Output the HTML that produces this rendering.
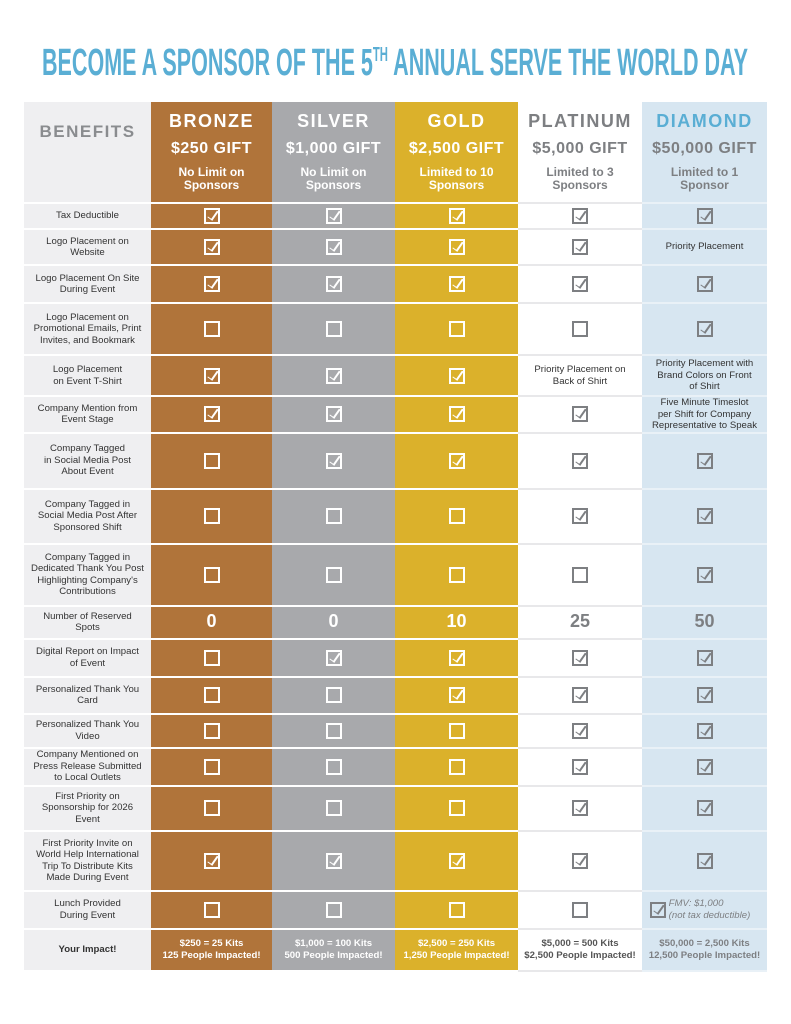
<!DOCTYPE html>
<html><head><meta charset="utf-8"><style>
*{margin:0;padding:0;box-sizing:border-box}
body{width:791px;height:1024px;background:#fff;font-family:"Liberation Sans",sans-serif;position:relative;overflow:hidden}
#title{position:absolute;left:0;top:40px}
table{position:absolute;left:24px;top:102px;border-collapse:collapse;table-layout:fixed}
td{text-align:center;vertical-align:middle;padding:0 2px;border-bottom:2px solid rgba(255,255,255,.35);line-height:1.2;font-size:9.6px;overflow:hidden}
td.b{background:#efeff1;color:#333;font-size:9.6px;border-bottom:2px solid #fff}
td.c1{background:#b0743a;color:#fff}
td.c2{background:#a8a9ac;color:#fff}
td.c3{background:#dbb12b;color:#fff}
td.c4{background:#fff;color:#7d7f82;border-bottom:2px solid #e8e8ea}
td.c5{background:#d7e6f1;color:#7d7f82;border-bottom:2px solid #e9f1f7}
.bx{display:inline-block;width:16px;height:16px;border:2px solid currentColor;position:relative;vertical-align:middle}
.ck::after{content:"";position:absolute;left:4px;top:-1px;width:4px;height:10px;border-right:2px solid currentColor;border-bottom:1.5px solid currentColor;transform:rotate(35deg)}
.t{font-size:9.6px;color:#333;line-height:1.2}
.h1{font-size:18px;font-weight:bold;letter-spacing:1.5px;line-height:1.2}
.h2{font-size:16px;font-weight:bold;letter-spacing:.5px;margin-top:6px;line-height:1.2}
.h3{font-size:12px;font-weight:bold;margin-top:8px;line-height:1.1}
.n{font-size:18px;font-weight:bold}
.imp{font-size:9.6px;font-weight:bold}
</style></head><body>
<svg id="title" width="791" height="45"><text x="42" y="35" textLength="706" lengthAdjust="spacingAndGlyphs" font-family="Liberation Sans Narrow, Liberation Sans, sans-serif" font-weight="bold" font-size="38" fill="#5aaed4">BECOME A SPONSOR OF THE 5<tspan font-size="20" dy="-14">TH</tspan><tspan dy="14"> ANNUAL SERVE THE WORLD DAY</tspan></text></svg>
<table>
<colgroup><col style="width:127px"><col style="width:121px"><col style="width:123px"><col style="width:123px"><col style="width:124px"><col style="width:125px"></colgroup>
<tr style="height:101px"><td class="b" style="vertical-align:top;padding-top:20px"><div style="font-size:17px;font-weight:bold;color:#8a8c8f;letter-spacing:1.5px">BENEFITS</div></td>
<td class="c1"><div class="h1">BRONZE</div><div class="h2">$250 GIFT</div><div class="h3">No Limit on<br>Sponsors</div></td>
<td class="c2"><div class="h1">SILVER</div><div class="h2">$1,000 GIFT</div><div class="h3">No Limit on<br>Sponsors</div></td>
<td class="c3"><div class="h1">GOLD</div><div class="h2">$2,500 GIFT</div><div class="h3">Limited to 10<br>Sponsors</div></td>
<td class="c4"><div class="h1">PLATINUM</div><div class="h2">$5,000 GIFT</div><div class="h3">Limited to 3<br>Sponsors</div></td>
<td class="c5"><div class="h1" style="color:#5aaed4">DIAMOND</div><div class="h2">$50,000 GIFT</div><div class="h3">Limited to 1<br>Sponsor</div></td></tr>

<tr style="height:26px"><td class="b">Tax Deductible</td><td class="c1"><span class="bx ck"></span></td><td class="c2"><span class="bx ck"></span></td><td class="c3"><span class="bx ck"></span></td><td class="c4"><span class="bx ck"></span></td><td class="c5"><span class="bx ck"></span></td></tr>
<tr style="height:36px"><td class="b">Logo Placement on<br>Website</td><td class="c1"><span class="bx ck"></span></td><td class="c2"><span class="bx ck"></span></td><td class="c3"><span class="bx ck"></span></td><td class="c4"><span class="bx ck"></span></td><td class="c5"><span class="t">Priority Placement</span></td></tr>
<tr style="height:38px"><td class="b">Logo Placement On Site<br>During Event</td><td class="c1"><span class="bx ck"></span></td><td class="c2"><span class="bx ck"></span></td><td class="c3"><span class="bx ck"></span></td><td class="c4"><span class="bx ck"></span></td><td class="c5"><span class="bx ck"></span></td></tr>
<tr style="height:52px"><td class="b">Logo Placement on<br>Promotional Emails, Print<br>Invites, and Bookmark</td><td class="c1"><span class="bx"></span></td><td class="c2"><span class="bx"></span></td><td class="c3"><span class="bx"></span></td><td class="c4"><span class="bx"></span></td><td class="c5"><span class="bx ck"></span></td></tr>
<tr style="height:41px"><td class="b">Logo Placement<br>on Event T-Shirt</td><td class="c1"><span class="bx ck"></span></td><td class="c2"><span class="bx ck"></span></td><td class="c3"><span class="bx ck"></span></td><td class="c4"><span class="t">Priority Placement on<br>Back of Shirt</span></td><td class="c5"><span class="t">Priority Placement with<br>Brand Colors on Front<br>of Shirt</span></td></tr>
<tr style="height:36px"><td class="b">Company Mention from<br>Event Stage</td><td class="c1"><span class="bx ck"></span></td><td class="c2"><span class="bx ck"></span></td><td class="c3"><span class="bx ck"></span></td><td class="c4"><span class="bx ck"></span></td><td class="c5"><span class="t">Five Minute Timeslot<br>per Shift for Company<br>Representative to Speak</span></td></tr>
<tr style="height:56px"><td class="b">Company Tagged<br>in Social Media Post<br>About Event</td><td class="c1"><span class="bx"></span></td><td class="c2"><span class="bx ck"></span></td><td class="c3"><span class="bx ck"></span></td><td class="c4"><span class="bx ck"></span></td><td class="c5"><span class="bx ck"></span></td></tr>
<tr style="height:55px"><td class="b">Company Tagged in<br>Social Media Post After<br>Sponsored Shift</td><td class="c1"><span class="bx"></span></td><td class="c2"><span class="bx"></span></td><td class="c3"><span class="bx"></span></td><td class="c4"><span class="bx ck"></span></td><td class="c5"><span class="bx ck"></span></td></tr>
<tr style="height:62px"><td class="b">Company Tagged in<br>Dedicated Thank You Post<br>Highlighting Company's<br>Contributions</td><td class="c1"><span class="bx"></span></td><td class="c2"><span class="bx"></span></td><td class="c3"><span class="bx"></span></td><td class="c4"><span class="bx"></span></td><td class="c5"><span class="bx ck"></span></td></tr>
<tr style="height:33px"><td class="b">Number of Reserved<br>Spots</td><td class="c1 n">0</td><td class="c2 n">0</td><td class="c3 n">10</td><td class="c4 n">25</td><td class="c5 n">50</td></tr>
<tr style="height:38px"><td class="b">Digital Report on Impact<br>of Event</td><td class="c1"><span class="bx"></span></td><td class="c2"><span class="bx ck"></span></td><td class="c3"><span class="bx ck"></span></td><td class="c4"><span class="bx ck"></span></td><td class="c5"><span class="bx ck"></span></td></tr>
<tr style="height:37px"><td class="b">Personalized Thank You<br>Card</td><td class="c1"><span class="bx"></span></td><td class="c2"><span class="bx"></span></td><td class="c3"><span class="bx ck"></span></td><td class="c4"><span class="bx ck"></span></td><td class="c5"><span class="bx ck"></span></td></tr>
<tr style="height:34px"><td class="b">Personalized Thank You<br>Video</td><td class="c1"><span class="bx"></span></td><td class="c2"><span class="bx"></span></td><td class="c3"><span class="bx"></span></td><td class="c4"><span class="bx ck"></span></td><td class="c5"><span class="bx ck"></span></td></tr>
<tr style="height:38px"><td class="b">Company Mentioned on<br>Press Release Submitted<br>to Local Outlets</td><td class="c1"><span class="bx"></span></td><td class="c2"><span class="bx"></span></td><td class="c3"><span class="bx"></span></td><td class="c4"><span class="bx ck"></span></td><td class="c5"><span class="bx ck"></span></td></tr>
<tr style="height:45px"><td class="b">First Priority on<br>Sponsorship for 2026<br>Event</td><td class="c1"><span class="bx"></span></td><td class="c2"><span class="bx"></span></td><td class="c3"><span class="bx"></span></td><td class="c4"><span class="bx ck"></span></td><td class="c5"><span class="bx ck"></span></td></tr>
<tr style="height:60px"><td class="b">First Priority Invite on<br>World Help International<br>Trip To Distribute Kits<br>Made During Event</td><td class="c1"><span class="bx ck"></span></td><td class="c2"><span class="bx ck"></span></td><td class="c3"><span class="bx ck"></span></td><td class="c4"><span class="bx ck"></span></td><td class="c5"><span class="bx ck"></span></td></tr>
<tr style="height:38px"><td class="b">Lunch Provided<br>During Event</td><td class="c1"><span class="bx"></span></td><td class="c2"><span class="bx"></span></td><td class="c3"><span class="bx"></span></td><td class="c4"><span class="bx"></span></td><td class="c5" style="text-align:left;padding-left:8px"><span class="bx ck"></span> <span style="display:inline-block;vertical-align:middle;font-size:9.6px;font-style:italic;line-height:1.2">FMV: $1,000<br>(not tax deductible)</span></td></tr>
<tr style="height:42px"><td class="b" style="font-weight:bold">Your Impact!</td><td class="c1 imp">$250 = 25 Kits<br>125 People Impacted!</td><td class="c2 imp">$1,000 = 100 Kits<br>500 People Impacted!</td><td class="c3 imp">$2,500 = 250 Kits<br>1,250 People Impacted!</td><td class="c4 imp" style="color:#555">$5,000 = 500 Kits<br>$2,500 People Impacted!</td><td class="c5 imp">$50,000 = 2,500 Kits<br>12,500 People Impacted!</td></tr>
</table>
</body></html>
